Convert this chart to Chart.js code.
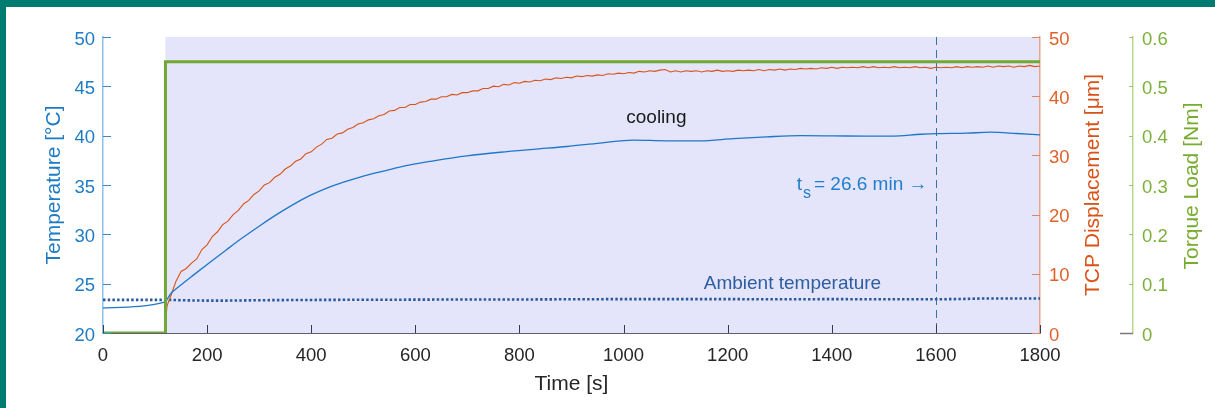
<!DOCTYPE html>
<html><head><meta charset="utf-8">
<script src="https://cdn.jsdelivr.net/npm/chart.js@4.4.1/dist/chart.umd.min.js"></script>
<style>
html,body{margin:0;padding:0;background:#fff;}
#wrap{position:relative;width:1215px;height:408px;overflow:hidden;background:#fff;}
#c{position:absolute;left:0;top:0;}
.bt{position:absolute;left:0;top:0;width:1215px;height:7px;background:#007B6F;}
.bl{position:absolute;left:0;top:0;width:6px;height:408px;background:#007B6F;}
</style></head><body>
<div id="wrap"><canvas id="c" width="1215" height="408"></canvas><div class="bt"></div><div class="bl"></div></div>
<script>
// ---- data ----
const xTickValues = [0, 200, 400, 600, 800, 1000, 1200, 1400, 1600, 1800];
const tempTickValues = [20, 25, 30, 35, 40, 45, 50];
const dispTickValues = [0, 10, 20, 30, 40, 50];
const torqueTickValues = [0, 0.1, 0.2, 0.3, 0.4, 0.5, 0.6];

const tempTime = [0, 120, 124, 132, 141, 173, 205, 238, 270, 302, 334, 366, 398, 430, 462, 494, 526, 558, 590, 635, 699, 763, 827, 891, 955, 1019, 1083, 1147, 1211, 1275, 1339, 1403, 1467, 1531, 1563, 1603, 1659, 1704, 1755, 1800];
const tempValues = [22.55, 23.15, 23.5, 24.1, 24.5, 25.84, 27.15, 28.47, 29.72, 30.9, 32.02, 33.04, 33.94, 34.68, 35.29, 35.8, 36.25, 36.67, 37.05, 37.45, 37.95, 38.32, 38.62, 38.9, 39.25, 39.55, 39.48, 39.48, 39.7, 39.88, 40.0, 39.98, 39.95, 39.98, 40.12, 40.2, 40.25, 40.35, 40.22, 40.07];

const ambientTime = [0, 120, 160, 220, 300, 400, 500, 600, 700, 800, 900, 1000, 1100, 1200, 1300, 1400, 1500, 1600, 1650, 1700, 1800];
const ambientValues = [23.36, 23.36, 23.31, 23.28, 23.32, 23.35, 23.37, 23.38, 23.4, 23.4, 23.42, 23.43, 23.43, 23.43, 23.42, 23.43, 23.42, 23.42, 23.45, 23.5, 23.5];

const dispTime = [120, 121, 123, 130, 140, 150, 160, 170, 180, 190, 200, 210, 220, 230, 240, 250, 260, 270, 280, 290, 300, 310, 320, 330, 340, 350, 360, 370, 380, 390, 400, 410, 420, 430, 440, 450, 460, 470, 480, 490, 500, 510, 520, 530, 540, 550, 560, 570, 580, 590, 600, 610, 620, 630, 640, 650, 660, 670, 680, 690, 700, 710, 720, 730, 740, 750, 760, 770, 780, 790, 800, 810, 820, 830, 840, 850, 860, 870, 880, 890, 900, 910, 920, 930, 940, 950, 960, 970, 980, 990, 1000, 1010, 1020, 1030, 1040, 1050, 1060, 1070, 1080, 1090, 1100, 1110, 1120, 1130, 1140, 1150, 1160, 1170, 1180, 1190, 1200, 1210, 1220, 1230, 1240, 1250, 1260, 1270, 1280, 1290, 1300, 1310, 1320, 1330, 1340, 1350, 1360, 1370, 1380, 1390, 1400, 1410, 1420, 1430, 1440, 1450, 1460, 1470, 1480, 1490, 1500, 1510, 1520, 1530, 1540, 1550, 1560, 1570, 1580, 1590, 1600, 1610, 1620, 1630, 1640, 1650, 1660, 1670, 1680, 1690, 1700, 1710, 1720, 1730, 1740, 1750, 1760, 1770, 1780, 1790, 1800];
const dispValues = [0, 2.6, 4.6, 6.2, 8.7, 10.4, 10.9, 11.8, 12.5, 14.1, 14.9, 16.3, 17.1, 18.3, 18.9, 20.0, 20.7, 21.8, 22.4, 23.4, 24.0, 25.0, 25.4, 26.3, 26.8, 27.7, 28.2, 29.0, 29.4, 30.3, 30.6, 31.4, 31.9, 32.7, 32.9, 33.6, 33.8, 34.4, 34.7, 35.3, 35.5, 36.0, 36.2, 36.7, 36.9, 37.5, 37.6, 38.1, 38.1, 38.6, 38.6, 39.0, 39.1, 39.5, 39.5, 39.9, 39.9, 40.3, 40.2, 40.6, 40.6, 40.9, 40.9, 41.3, 41.3, 41.7, 41.6, 42.0, 41.9, 42.3, 42.2, 42.5, 42.4, 42.7, 42.6, 42.9, 42.8, 43.1, 43.0, 43.2, 43.1, 43.4, 43.3, 43.5, 43.4, 43.6, 43.5, 43.8, 43.7, 43.9, 43.8, 44.0, 43.9, 44.2, 44.1, 44.3, 44.2, 44.4, 44.5, 44.1, 44.3, 44.1, 44.3, 44.2, 44.3, 44.1, 44.3, 44.2, 44.4, 44.2, 44.3, 44.2, 44.4, 44.3, 44.4, 44.3, 44.5, 44.3, 44.5, 44.4, 44.6, 44.4, 44.6, 44.5, 44.7, 44.6, 44.7, 44.6, 44.8, 44.7, 44.9, 44.7, 44.9, 44.8, 44.9, 44.8, 45.0, 44.8, 45.0, 44.8, 44.9, 44.8, 45.0, 44.8, 44.9, 44.8, 45.0, 44.8, 44.9, 44.7, 44.9, 44.8, 44.9, 44.8, 45.0, 44.8, 45.0, 44.9, 45.0, 44.9, 45.1, 44.9, 45.1, 45.0, 45.1, 44.9, 45.1, 45.0, 45.2, 45.0, 45.1];

const torqueTime = [0, 120, 120, 1800];
const torqueValues = [0, 0, 0.55, 0.55];

const shadeStart = 120;      // start of the shaded (cooling) phase, s
const settleTime = 1600;     // t_s marker, s
const labels = {
  cooling: {text: 'cooling', x: 1063, y: 41.84},
  ambient: {text: 'Ambient temperature', x: 1324.5, y: 24.97},
  settle: {t: 't', sub: 's', rest: '= 26.6 min \u2192', x: 1332.6, y: 34.49}
};

// ---- chart ----
const FONT = '"Liberation Sans", Arial, Helvetica, sans-serif';
const zip = (xs, ys) => xs.map((v, i) => ({x: v, y: ys[i]}));
const tickList = arr => (scale) => { scale.ticks = arr.map(v => ({value: v})); };
const plain = v => String(v);

const decor = {
  id: 'decor',
  beforeDraw(chart) {
    const {ctx, chartArea: a, scales: {x}} = chart;
    const x0 = x.getPixelForValue(shadeStart);
    ctx.save();
    ctx.fillStyle = '#E4E4FA';
    ctx.fillRect(x0, a.top, a.right - x0, a.bottom - a.top);
    ctx.restore();
  },
  beforeDatasetsDraw(chart) {
    const {ctx, chartArea: a, scales: {x}} = chart;
    const px = Math.round(x.getPixelForValue(settleTime)) + 0.5;
    ctx.save();
    ctx.strokeStyle = '#3B6FAE';
    ctx.lineWidth = 1;
    ctx.setLineDash([8, 5]);
    ctx.beginPath(); ctx.moveTo(px, a.top); ctx.lineTo(px, a.bottom); ctx.stroke();
    ctx.restore();
  },
  afterDatasetsDraw(chart) {
    const {ctx, scales: {x, y}} = chart;
    ctx.save();
    ctx.font = '19px ' + FONT;
    ctx.textAlign = 'center';
    ctx.textBaseline = 'middle';
    ctx.fillStyle = '#1A1A1A';
    ctx.fillText(labels.cooling.text, x.getPixelForValue(labels.cooling.x), y.getPixelForValue(labels.cooling.y));
    ctx.fillStyle = '#2D5D9F';
    ctx.fillText(labels.ambient.text, x.getPixelForValue(labels.ambient.x), y.getPixelForValue(labels.ambient.y));
    const s = labels.settle;
    let px = x.getPixelForValue(s.x);
    const py = y.getPixelForValue(s.y);
    ctx.textAlign = 'left';
    ctx.textBaseline = 'alphabetic';
    ctx.fillStyle = '#1F7FCC';
    ctx.font = '19px ' + FONT;
    ctx.fillText(s.t, px, py);
    px += ctx.measureText(s.t).width + 1;
    ctx.font = '16px ' + FONT;
    ctx.fillText(s.sub, px, py + 8);
    px += ctx.measureText(s.sub).width + 3;
    ctx.font = '19px ' + FONT;
    ctx.fillText(s.rest, px, py);
    ctx.restore();
  },
  afterDraw(chart) {
    const {ctx, chartArea: a, scales: {x, y, y1, y2}} = chart;
    const line = (x0, y0, x1, y1_) => { ctx.beginPath(); ctx.moveTo(x0, y0); ctx.lineTo(x1, y1_); ctx.stroke(); };
    const al = p => Math.round(p) + 0.5;
    ctx.save();
    ctx.lineWidth = 1;
    ctx.strokeStyle = '#3A8ACB';
    tempTickValues.forEach(v => { const p = al(y.getPixelForValue(v)); line(a.left, p, a.left + 8, p); });
    ctx.strokeStyle = '#3A3A48';
    xTickValues.forEach(v => { const p = al(x.getPixelForValue(v)); line(p, a.bottom, p, a.bottom - 8); });
    ctx.strokeStyle = '#DD8466';
    dispTickValues.forEach(v => { const p = al(y1.getPixelForValue(v)); line(a.right - 8, p, a.right, p); });
    ctx.strokeStyle = '#9DC66C';
    torqueTickValues.forEach(v => { const p = al(y2.getPixelForValue(v)); line(y2.left - 4, p, y2.left, p); });
    ctx.strokeStyle = '#7A7A7A';
    ctx.lineWidth = 1.5;
    line(y2.left - 13, al(a.bottom), y2.left, al(a.bottom));
    const midY = (a.top + a.bottom) / 2;
    ctx.font = '21px ' + FONT;
    ctx.textAlign = 'center';
    ctx.textBaseline = 'middle';
    ctx.save();
    ctx.translate(y1.left + 53, midY); ctx.rotate(-Math.PI / 2);
    ctx.fillStyle = '#D95319';
    ctx.fillText('TCP Displacement [\u03BCm]', 0, 0);
    ctx.restore();
    ctx.save();
    ctx.translate(y2.left + 59, midY + 1); ctx.rotate(-Math.PI / 2);
    ctx.fillStyle = '#77AC30';
    ctx.fillText('Torque Load [Nm]', 0, 0);
    ctx.restore();
    ctx.restore();
  }
};

new Chart(document.getElementById('c'), {
  type: 'line',
  data: {
    datasets: [
      {label: 'Torque Load', data: zip(torqueTime, torqueValues), yAxisID: 'y2', borderColor: '#72A836', borderWidth: 3, pointRadius: 0, tension: 0, clip: 0},
      {label: 'Temperature', data: zip(tempTime, tempValues), yAxisID: 'y', borderColor: '#1E78C8', borderWidth: 1.3, pointRadius: 0, cubicInterpolationMode: 'monotone'},
      {label: 'TCP Displacement', data: zip(dispTime, dispValues), yAxisID: 'y1', borderColor: '#D95319', borderWidth: 1.1, pointRadius: 0, tension: 0},
      {label: 'Ambient temperature', data: zip(ambientTime, ambientValues), yAxisID: 'y', borderColor: '#2B5A9C', borderWidth: 2.6, borderDash: [2.5, 2.2], borderCapStyle: 'butt', pointRadius: 0, cubicInterpolationMode: 'monotone'}
    ]
  },
  options: {
    responsive: false,
    animation: false,
    devicePixelRatio: 1,
    parsing: false,
    layout: {padding: {top: 37, left: 0, right: 0, bottom: 0}},
    plugins: {legend: {display: false}, tooltip: {enabled: false}},
    scales: {
      x: {
        type: 'linear', position: 'bottom', min: 0, max: 1800,
        afterBuildTicks: tickList(xTickValues),
        afterFit: s => { s.height = 75; },
        grid: {display: false, drawTicks: false},
        border: {display: true, color: '#5C5C72', width: 1},
        ticks: {padding: 12, color: '#262626', font: {family: FONT, size: 18.5}, maxRotation: 0, autoSkip: false, callback: plain},
        title: {display: true, text: 'Time [s]', color: '#262626', font: {family: FONT, size: 21}, padding: {top: 0, bottom: 11}}
      },
      y: {
        type: 'linear', position: 'left', min: 20, max: 50,
        afterBuildTicks: tickList(tempTickValues),
        afterFit: s => { s.width = 103; },
        grid: {display: false, drawTicks: false},
        border: {display: true, color: '#8CC2E8', width: 1.5},
        ticks: {padding: 8, labelOffset: 2.5, color: '#1F7BC4', font: {family: FONT, size: 18.5}, callback: plain},
        title: {display: true, text: 'Temperature [°C]', color: '#1F7BC4', font: {family: FONT, size: 21}, padding: {top: 42, bottom: 0}}
      },
      y1: {
        type: 'linear', position: 'right', min: 0, max: 50,
        afterBuildTicks: tickList(dispTickValues),
        afterFit: s => { s.width = 93; },
        grid: {display: false, drawTicks: false},
        border: {display: true, color: '#E9A48E', width: 1.5},
        ticks: {padding: 9, labelOffset: 2.5, color: '#E0622A', font: {family: FONT, size: 18.5}, callback: plain}
      },
      y2: {
        type: 'linear', position: 'right', min: 0, max: 0.6,
        afterBuildTicks: tickList(torqueTickValues),
        afterFit: s => { s.width = 82; },
        grid: {display: false, drawTicks: false},
        border: {display: true, color: '#B6D78E', width: 1.5},
        ticks: {padding: 9, labelOffset: 2.5, color: '#7BB03B', font: {family: FONT, size: 18.5}, callback: plain}
      }
    }
  },
  plugins: [decor]
});
</script>
</body></html>
